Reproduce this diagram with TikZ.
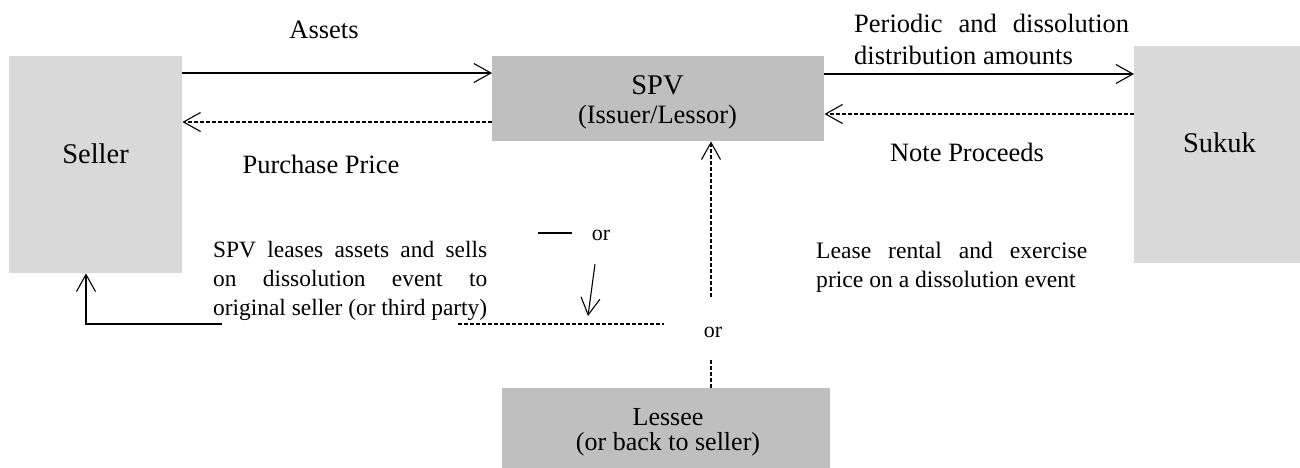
\documentclass[tikz,border=0pt]{standalone}
\usepackage{fontspec}
\setmainfont{Liberation Serif}
\usetikzlibrary{arrows.meta}
\definecolor{lightbox}{HTML}{D9D9D9}
\definecolor{darkbox}{HTML}{BFBFBF}
\begin{document}
\begin{tikzpicture}[x=1pt,y=-1pt,
  lbox/.style={fill=lightbox, draw=none, inner sep=0, anchor=north west},
  dbox/.style={fill=darkbox, draw=none, inner sep=0, anchor=north west},
  arr/.style={-{Straight Barb[length=17pt,width=19pt,line width=1.1pt]}, line width=1.1pt},
  dsh/.style={dash pattern=on 4pt off 2pt, line width=1.2pt},
  lbl/.style={anchor=base, inner sep=0, font=\fontsize{26.5}{31.5}\selectfont},
  big/.style={anchor=base, inner sep=0, font=\fontsize{28.5}{32}\selectfont},
  small/.style={anchor=base, inner sep=0, font=\fontsize{22}{26}\selectfont},
  para/.style={anchor=north west, inner sep=0, align=justify}
]
\useasboundingbox (0,0) rectangle (1300,468);

% boxes
\node[lbox, minimum width=173, minimum height=217] (seller) at (9,56) {};
\node[dbox, minimum width=332, minimum height=85] (spv) at (492,56) {};
\node[lbox, minimum width=166, minimum height=217] (sukuk) at (1134,46) {};
\node[dbox, minimum width=328, minimum height=80] (lessee) at (502,388) {};

% box texts
\node[big] (sellertxt) at (95.5,163.3) {Seller};
\node[big] (spvtxt) at (657.5,94.3) {SPV};
\node[lbl] (issuertxt) at (657.5,123.3) {(Issuer/Lessor)};
\node[big] (sukuktxt) at (1219.5,152.7) {Sukuk};
\node[lbl, font=\fontsize{26}{28}\selectfont] (lesseetxt) at (668,425) {Lessee};
\node[lbl, font=\fontsize{26}{28}\selectfont] (backtxt) at (668,450) {(or back to seller)};

% main connectors
\draw[arr] (seller.east |- 0,73) -- (spv.west |- 0,73);
\draw[arr, dsh] (spv.west |- 0,122) -- (seller.east |- 0,122);
\draw[arr] (spv.east |- 0,74) -- (sukuk.west |- 0,74);
\draw[arr, dsh] (sukuk.west |- 0,114) -- (spv.east |- 0,114);

% labels
\node[lbl] (assets) at (324,38.3) {Assets};
\node[lbl] (purchase) at (321,173.3) {Purchase Price};
\node[lbl] (proceeds) at (967,161) {Note Proceeds};
\node[para, text width=275pt, font=\fontsize{26.5}{31.5}\selectfont] (periodic) at (854,14)
  {Periodic and dissolution\linebreak distribution amounts};
\node[para, text width=271pt, font=\fontsize{23.6}{29}\selectfont] (lease) at (816,242)
  {Lease rental and exercise\linebreak price on a dissolution event};
\node[para, text width=274pt, font=\fontsize{23.4}{29}\selectfont] (leftblock) at (213,241)
  {SPV leases assets and sells\linebreak on dissolution event to\linebreak original seller (or third party)};

% lessee / seller flows
\coordinate (up) at (711,297);
\draw[arr, dsh] (up) -- (spv.south -| up);
\node[small] (or2) at (713,337) {or};
\coordinate (dn) at (711,360);
\draw[dsh] (dn) -- (lessee.north -| dn);
\coordinate (hl) at (458,324);
\coordinate (hr) at (664,324);
\draw[dsh] (hl) -- (hr);
\coordinate (r0) at (222,324);
\coordinate (r1) at (86,324);
\draw[arr] (r0) -- (r1) -- (seller.south -| r1);

% small "or" legend
\coordinate (s0) at (538,233);
\coordinate (s1) at (572,233);
\draw[line width=1.1pt] (s0) -- (s1);
\node[small] (or1) at (601,240) {or};
\coordinate (a0) at (595,264);
\coordinate (a1) at (588,316);
\draw[arr] (a0) -- (a1);
\end{tikzpicture}
\end{document}
